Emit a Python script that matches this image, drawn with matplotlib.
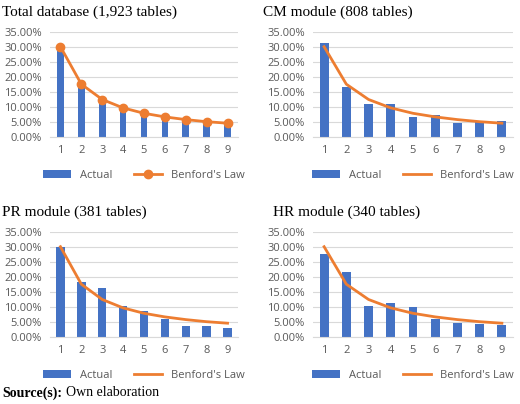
import matplotlib
matplotlib.use("Agg")
import matplotlib.pyplot as plt
from matplotlib.ticker import FuncFormatter, MultipleLocator

digits = [1, 2, 3, 4, 5, 6, 7, 8, 9]
benford = [30.1, 17.6, 12.5, 9.7, 7.9, 6.7, 5.8, 5.1, 4.6]
total = [30.0, 18.8, 12.5, 9.8, 8.0, 6.8, 5.2, 5.2, 4.5]
cm = [31.3, 16.6, 11.0, 11.0, 6.6, 7.3, 4.8, 5.3, 5.2]
pr = [30.0, 18.4, 16.3, 10.2, 8.7, 6.0, 3.8, 3.7, 3.1]
hr = [27.6, 21.8, 10.4, 11.2, 10.0, 5.9, 4.7, 4.4, 4.1]
titles = ["Total database (1,923 tables)", "CM module (808 tables)",
          "PR module (381 tables)", "HR module (340 tables)"]

BLUE = "#4472C4"
ORANGE = "#ED7D31"
GRID = "#D9D9D9"
TXT = "#595959"

fig = plt.figure(figsize=(5.2, 4.04), dpi=100)
W, H = 520, 404
panels = [
    (total, titles[0], (50, 238, 137), True, 0.32, (2, 12)),
    (cm, titles[1], (313, 513, 137), False, 0.4, (263, 12)),
    (pr, titles[2], (50, 238, 337), False, 0.4, (2, 212)),
    (hr, titles[3], (313, 513, 337), False, 0.4, (273, 212)),
]
for vals, title, (x0, x1, yb), markers, bw, (tx, ty) in panels:
    ax = fig.add_axes([x0 / W, (H - yb) / H, (x1 - x0) / W, 105 / H])
    b = ax.bar(digits, vals, width=bw, color=BLUE, label="Actual", zorder=2)
    l, = ax.plot(digits, benford, color=ORANGE, lw=2, label="Benford's Law",
                 marker="o" if markers else None, ms=6, zorder=3)
    ax.set_ylim(0, 35)
    ax.set_xlim(0.5, 9.5)
    ax.yaxis.set_major_locator(MultipleLocator(5))
    ax.yaxis.set_major_formatter(FuncFormatter(lambda v, p: f"{v:.2f}%"))
    ax.set_xticks(digits)
    ax.grid(axis="y", color=GRID, lw=0.8, zorder=0)
    for s in ["top", "right", "left"]:
        ax.spines[s].set_visible(False)
    ax.spines["bottom"].set_color(GRID)
    ax.tick_params(length=0, labelsize=8, colors=TXT, pad=6)
    for lab in ax.get_xticklabels() + ax.get_yticklabels():
        lab.set_fontfamily("Open Sans")
    fig.text(tx / W, 1 - ty / H, title, fontsize=11,
             family="Liberation Serif", va="center", ha="left")
    leg = ax.legend([b, l], ["Actual", "Benford's Law"], loc="upper center",
                    bbox_to_anchor=(0.5, -0.22), ncol=2,
                    frameon=False, prop={"family": "Open Sans", "size": 8},
                    handlelength=2.5, columnspacing=2.0)
    for t in leg.get_texts():
        t.set_color(TXT)

fig.text(2 / W, 1 - 393 / H, "Source(s):", fontsize=10, weight="bold",
         family="Liberation Serif", va="center")
fig.text(66 / W, 1 - 393 / H, "Own elaboration", fontsize=10,
         family="Liberation Serif", va="center")
fig.savefig("out.png", dpi=100)
